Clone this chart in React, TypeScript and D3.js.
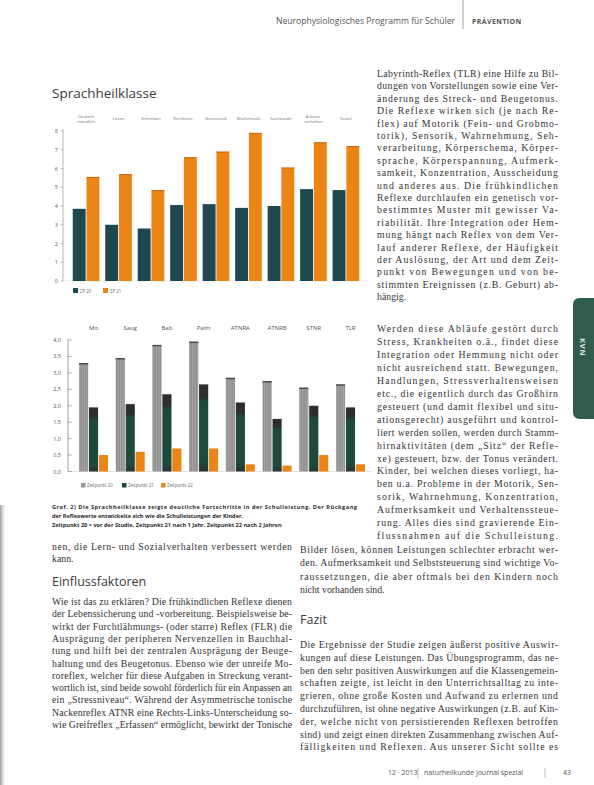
import React from 'react';
import * as d3 from 'd3';

const W = 594;
const H = 785;

// ---------- Chart 1 (Schulleistung) ----------
const cats1: string[][] = [
  ['Deutsch', 'mündlich'], ['Lesen'], ['Schreiben'], ['Rechtschr.'], ['Grammatik'],
  ['Mathematik'], ['Sachkunde'], ['Arbeits-', 'verhalten'], ['Sozial'],
];
const series1Names = ['ZP 20', 'ZP 21'];
const vals1a = [3.85, 3.0, 2.8, 4.05, 4.1, 3.9, 4.0, 4.9, 4.85];
const vals1b = [5.55, 5.7, 4.85, 6.6, 6.9, 7.9, 6.05, 7.4, 7.2];
const ticks1 = [0, 1, 2, 3, 4, 5, 6, 7, 8];

// ---------- Chart 2 (Reflexe) ----------
const cats2 = ['Mo', 'Saug', 'Bab', 'Palm', 'ATNRA', 'ATNRB', 'STNR', 'TLR'];
const series2Names = ['Zeitpunkt 20', 'Zeitpunkt 21', 'Zeitpunkt 22'];
const vals2a = [3.3, 3.45, 3.85, 3.95, 2.85, 2.75, 2.55, 2.65];
const vals2b = [1.95, 2.05, 2.35, 2.65, 2.1, 1.6, 2.0, 1.95];
const vals2c = [0.5, 0.6, 0.7, 0.7, 0.22, 0.18, 0.5, 0.22];
const ticks2 = [0, 0.5, 1, 1.5, 2, 2.5, 3, 3.5, 4];

// ---------- Texts ----------
const headerLeft = 'Neurophysiologisches Programm für Schüler';
const headerRight = 'PRÄVENTION';
const title = 'Sprachheilklasse';
const captionLines = [
  'Graf. 2) Die Sprachheilklasse zeigte deutliche Fortschritte in der Schulleistung. Der Rückgang',
  'der Reflexwerte entwickelte sich wie die Schulleistungen der Kinder.',
  'Zeitpunkt 20 = vor der Studie, Zeitpunkt 21 nach 1 Jahr, Zeitpunkt 22 nach 2 Jahren',
];
const leftTop = ['nen, die Lern- und Sozialverhalten verbessert werden', 'kann.'];
const heading2 = 'Einflussfaktoren';
const leftPara = [
  'Wie ist das zu erklären? Die frühkindlichen Reflexe dienen',
  'der Lebenssicherung und -vorbereitung. Beispielsweise be-',
  'wirkt der Furchtlähmungs- (oder starre) Reflex (FLR) die',
  'Ausprägung der peripheren Nervenzellen in Bauchhal-',
  'tung und hilft bei der zentralen Ausprägung der Beuge-',
  'haltung und des Beugetonus. Ebenso wie der unreife Mo-',
  'roreflex, welcher für diese Aufgaben in Streckung verant-',
  'wortlich ist, sind beide sowohl förderlich für ein Anpassen an',
  'ein „Stressniveau“. Während der Asymmetrische tonische',
  'Nackenreflex ATNR eine Rechts-Links-Unterscheidung so-',
  'wie Greifreflex „Erfassen“ ermöglicht, bewirkt der Tonische',
];
const rightTop = [
  'Labyrinth-Reflex (TLR) eine Hilfe zu Bil-',
  'dungen von Vorstellungen sowie eine Ver-',
  'änderung des Streck- und Beugetonus.',
  'Die Reflexe wirken sich (je nach Re-',
  'flex) auf Motorik (Fein- und Grobmo-',
  'torik), Sensorik, Wahrnehmung, Seh-',
  'verarbeitung, Körperschema, Körper-',
  'sprache, Körperspannung, Aufmerk-',
  'samkeit, Konzentration, Ausscheidung',
  'und anderes aus. Die frühkindlichen',
  'Reflexe durchlaufen ein genetisch vor-',
  'bestimmtes Muster mit gewisser Va-',
  'riabilität. Ihre Integration oder Hem-',
  'mung hängt nach Reflex von dem Ver-',
  'lauf anderer Reflexe, der Häufigkeit',
  'der Auslösung, der Art und dem Zeit-',
  'punkt von Bewegungen und von be-',
  'stimmten Ereignissen (z.B. Geburt) ab-',
  'hängig.',
];
const rightMid = [
  'Werden diese Abläufe gestört durch',
  'Stress, Krankheiten o.ä., findet diese',
  'Integration oder Hemmung nicht oder',
  'nicht ausreichend statt. Bewegungen,',
  'Handlungen, Stressverhaltensweisen',
  'etc., die eigentlich durch das Großhirn',
  'gesteuert (und damit flexibel und situ-',
  'ationsgerecht) ausgeführt und kontrol-',
  'liert werden sollen, werden durch Stamm-',
  'hirnaktivitäten (dem „Sitz“ der Refle-',
  'xe) gesteuert, bzw. der Tonus verändert.',
  'Kinder, bei welchen dieses vorliegt, ha-',
  'ben u.a. Probleme in der Motorik, Sen-',
  'sorik, Wahrnehmung, Konzentration,',
  'Aufmerksamkeit und Verhaltenssteue-',
  'rung. Alles dies sind gravierende Ein-',
  'flussnahmen auf die Schulleistung.',
];
const rightWide = [
  'Bilder lösen, können Leistungen schlechter erbracht wer-',
  'den. Aufmerksamkeit und Selbststeuerung sind wichtige Vo-',
  'raussetzungen, die aber oftmals bei den Kindern noch',
  'nicht vorhanden sind.',
];
const heading3 = 'Fazit';
const fazitPara = [
  'Die Ergebnisse der Studie zeigen äußerst positive Auswir-',
  'kungen auf diese Leistungen. Das Übungsprogramm, das ne-',
  'ben den sehr positiven Auswirkungen auf die Klassengemein-',
  'schaften zeigte, ist leicht in den Unterrichtsalltag zu inte-',
  'grieren, ohne große Kosten und Aufwand zu erlernen und',
  'durchzuführen, ist ohne negative Auswirkungen (z.B. auf Kin-',
  'der, welche nicht von persistierenden Reflexen betroffen',
  'sind) und zeigt einen direkten Zusammenhang zwischen Auf-',
  'fälligkeiten und Reflexen. Aus unserer Sicht sollte es',
];
const footerLeft = '12 · 2013';
const footerMid = 'naturheilkunde journal spezial';
const footerPage = '43';
const tabLabel = 'KVN';

const BODY_FONT = '"Liberation Serif", "DejaVu Serif", serif';
const SANS = '"Open Sans", "Noto Sans", "Liberation Sans", sans-serif';

type ParaProps = {
  lines: string[]; x: number; y: number; width: number; lh: number;
  size?: number; justifyLast?: boolean;
};
function Para({ lines, x, y, width, lh, size = 9.8, justifyLast = false }: ParaProps) {
  return (
    <g fontFamily={BODY_FONT} fontSize={size} fill="#333">
      {lines.map((ln, i) => {
        const last = i === lines.length - 1;
        const just = !last || justifyLast;
        return (
          <text key={i} x={x} y={y + i * lh}
            {...(just ? { textLength: width, lengthAdjust: 'spacing' } : {})}>
            {ln}
          </text>
        );
      })}
    </g>
  );
}

export default function App() {
  // Chart 1 scales
  const y1 = d3.scaleLinear().domain([0, 8]).range([281, 131]);
  const x1 = d3.scaleBand<number>().domain(d3.range(cats1.length)).range([63, 369])
    .paddingInner(0.18).paddingOuter(0.3);
  const s1 = d3.scaleBand<number>().domain([0, 1]).range([0, x1.bandwidth()]).paddingInner(0.06);

  // Chart 2 scales
  const y2 = d3.scaleLinear().domain([0, 4]).range([471.5, 340]);
  const x2 = d3.scaleBand<number>().domain(d3.range(cats2.length)).range([68, 376])
    .paddingInner(0.21).paddingOuter(0.3);
  const s2 = d3.scaleBand<number>().domain([0, 1, 2]).range([0, x2.bandwidth()]).paddingInner(0.08);
  const fmt2 = (v: number) => d3.format('.1f')(v).replace('.', ',');

  const dark1 = '#1e4850';
  const orange = '#eb8515';
  const gray = '#8d8d8d';

  const series2 = [vals2a, vals2b, vals2c];
  const fills2 = ['url(#hatch)', 'url(#darkGrad)', orange];

  return (
    <svg width={W} height={H} viewBox={`0 0 ${W} ${H}`}
      style={{ position: 'absolute', left: 0, top: 0, display: 'block', background: '#fff' }}>
      <defs>
        <pattern id="hatch" width="2.4" height="4" patternUnits="userSpaceOnUse">
          <rect width="2.4" height="4" fill={gray} />
          <rect width="1" height="4" fill="#a9a9a9" />
        </pattern>
        <linearGradient id="darkGrad" x1="0" y1="0" x2="0" y2="1">
          <stop offset="0" stopColor="#2b2e2d" />
          <stop offset="0.14" stopColor="#2b2e2d" />
          <stop offset="0.2" stopColor="#1d4a3b" />
          <stop offset="0.9" stopColor="#1d4a3b" />
          <stop offset="1" stopColor="#2a302e" />
        </linearGradient>
        <linearGradient id="edge" x1="0" y1="0" x2="1" y2="0">
          <stop offset="0" stopColor="#9a9a9a" />
          <stop offset="1" stopColor="#ffffff" stopOpacity="0" />
        </linearGradient>
      </defs>

      {/* scan edge */}
      <rect x={0} y={505} width={7} height={H - 505} fill="url(#edge)" />

      {/* header */}
      <text x={455} y={24} textAnchor="end" fontFamily={SANS} fontSize={8.6} fill="#555">{headerLeft}</text>
      <line x1={463} y1={0} x2={463} y2={29} stroke="#888" strokeWidth={0.8} />
      <text x={472} y={24} fontFamily={SANS} fontSize={7} fontWeight={700} letterSpacing={0.4} fill="#555">{headerRight}</text>

      {/* side tab */}
      <path d="M594,298 L580,298 Q573,298 573,305 L573,412 Q573,419 580,419 L594,419 Z" fill="#2e5b4b" />
      <text transform="translate(580,338) rotate(90)" fontFamily={SANS} fontSize={7.5} fontWeight={700} fill="#dfe9e4" letterSpacing={0.8}>{tabLabel}</text>

      {/* title */}
      <text x={52} y={98} fontFamily={SANS} fontSize={13.5} fill="#3a3a3a">{title}</text>

      {/* ===== Chart 1 ===== */}
      <g>
        {cats1.map((lab, i) => (
          <text key={i} x={(x1(i) as number) + x1.bandwidth() / 2} y={lab.length > 1 ? 118 : 120}
            textAnchor="middle" fontFamily={SANS} fontSize={4.2} fill="#777">
            {lab.map((l, j) => <tspan key={j} x={(x1(i) as number) + x1.bandwidth() / 2} dy={j === 0 ? 0 : 5}>{l}</tspan>)}
          </text>
        ))}
        <line x1={63} y1={y1(8) - 2} x2={63} y2={y1(0)} stroke="#9a9a9a" strokeWidth={0.7} />
        <line x1={63} y1={y1(0)} x2={368} y2={y1(0)} stroke="#e2e2e2" strokeWidth={0.6} />
        {ticks1.map(t => (
          <g key={t}>
            <line x1={60.5} x2={63} y1={y1(t)} y2={y1(t)} stroke="#9a9a9a" strokeWidth={0.6} />
            <text x={58} y={y1(t) + 2} textAnchor="end" fontFamily={SANS} fontSize={5.5} fill="#555">{t}</text>
          </g>
        ))}
        {vals1a.map((v, i) => (
          <rect key={'a' + i} x={(x1(i) as number) + (s1(0) as number)} y={y1(v)} width={s1.bandwidth()}
            height={y1(0) - y1(v)} fill={dark1} />
        ))}
        {vals1b.map((v, i) => (
          <g key={'b' + i}>
            <rect x={(x1(i) as number) + (s1(1) as number)} y={y1(v)} width={s1.bandwidth()}
              height={y1(0) - y1(v)} fill={orange} />
            <rect x={(x1(i) as number) + (s1(1) as number)} y={y1(v)} width={s1.bandwidth()}
              height={1} fill="#b85a12" opacity={0.7} />
          </g>
        ))}
        {/* legend */}
        <rect x={73} y={288} width={5} height={5} fill={dark1} />
        <text x={80} y={292.6} fontFamily={SANS} fontSize={4.4} fill="#666">{series1Names[0]}</text>
        <rect x={103} y={288} width={5} height={5} fill={orange} />
        <text x={110} y={292.6} fontFamily={SANS} fontSize={4.4} fill="#666">{series1Names[1]}</text>
      </g>

      {/* ===== Chart 2 ===== */}
      <g>
        {cats2.map((c, i) => (
          <text key={i} x={(x2(i) as number) + x2.bandwidth() / 2} y={330} textAnchor="middle"
            fontFamily={SANS} fontSize={6} fill="#555">{c}</text>
        ))}
        <line x1={68} y1={y2(4) - 1} x2={68} y2={y2(0)} stroke="#8a8a8a" strokeWidth={0.8} />
        <line x1={68} y1={y2(0)} x2={372} y2={y2(0)} stroke="#cfcfcf" strokeWidth={0.6} />
        {ticks2.map(t => (
          <g key={t}>
            <line x1={68} x2={72} y1={y2(t)} y2={y2(t)} stroke="#8a8a8a" strokeWidth={0.6} />
            <text x={61} y={y2(t) + 2} textAnchor="end" fontFamily={SANS} fontSize={5.5} fill="#555">{fmt2(t)}</text>
          </g>
        ))}
        {series2.map((vals, si) => vals.map((v, i) => (
          <g key={si + '-' + i}>
            <rect x={(x2(i) as number) + (s2(si) as number)} y={y2(v)} width={s2.bandwidth()}
              height={y2(0) - y2(v)} fill={fills2[si]} />
            {si === 0 && (
              <rect x={(x2(i) as number) + (s2(si) as number)} y={y2(v)} width={s2.bandwidth()}
                height={1.4} fill="#4a4a4a" />
            )}
          </g>
        )))}
        {/* legend */}
        <rect x={81} y={483} width={4.5} height={4.5} fill="url(#hatch)" />
        <text x={87} y={487.3} fontFamily={SANS} fontSize={4.4} fill="#666">{series2Names[0]}</text>
        <rect x={122} y={483} width={4.5} height={4.5} fill="#1d4a3b" />
        <text x={128} y={487.3} fontFamily={SANS} fontSize={4.4} fill="#666">{series2Names[1]}</text>
        <rect x={161} y={483} width={4.5} height={4.5} fill={orange} />
        <text x={167} y={487.3} fontFamily={SANS} fontSize={4.4} fill="#666">{series2Names[2]}</text>
      </g>

      {/* caption */}
      <g fontFamily={SANS} fontSize={5.6} fontWeight={700} fill="#2a2a2a">
        <text x={52} y={509} textLength={305} lengthAdjust="spacing">{captionLines[0]}</text>
        <text x={52} y={518}>{captionLines[1]}</text>
        <text x={52} y={527}>{captionLines[2]}</text>
      </g>

      {/* left column */}
      <Para lines={leftTop} x={52} y={550} width={240} lh={12.2} />
      <text x={52} y={586} fontFamily={SANS} fontSize={12.5} fill="#3a3a3a">{heading2}</text>
      <Para lines={leftPara} x={52} y={605} width={240} lh={12.3} justifyLast />

      {/* right column */}
      <Para lines={rightTop} x={377} y={77} width={181} lh={12.4} />
      <Para lines={rightMid} x={377} y={332} width={181} lh={12.95} justifyLast />
      <Para lines={rightWide} x={300} y={553} width={258} lh={13.3} />
      <text x={300} y={624} fontFamily={SANS} fontSize={12.5} fill="#3a3a3a">{heading3}</text>
      <Para lines={fazitPara} x={300} y={648} width={258} lh={12.8} justifyLast />

      {/* footer */}
      <g fontFamily={SANS} fontSize={7} fill="#555">
        <text x={388} y={775}>{footerLeft}</text>
        <line x1={418} y1={768} x2={418} y2={778} stroke="#999" strokeWidth={0.6} />
        <text x={424} y={775}>{footerMid}</text>
        <line x1={545} y1={768} x2={545} y2={778} stroke="#999" strokeWidth={0.6} />
        <text x={563} y={775}>{footerPage}</text>
      </g>
    </svg>
  );
}
